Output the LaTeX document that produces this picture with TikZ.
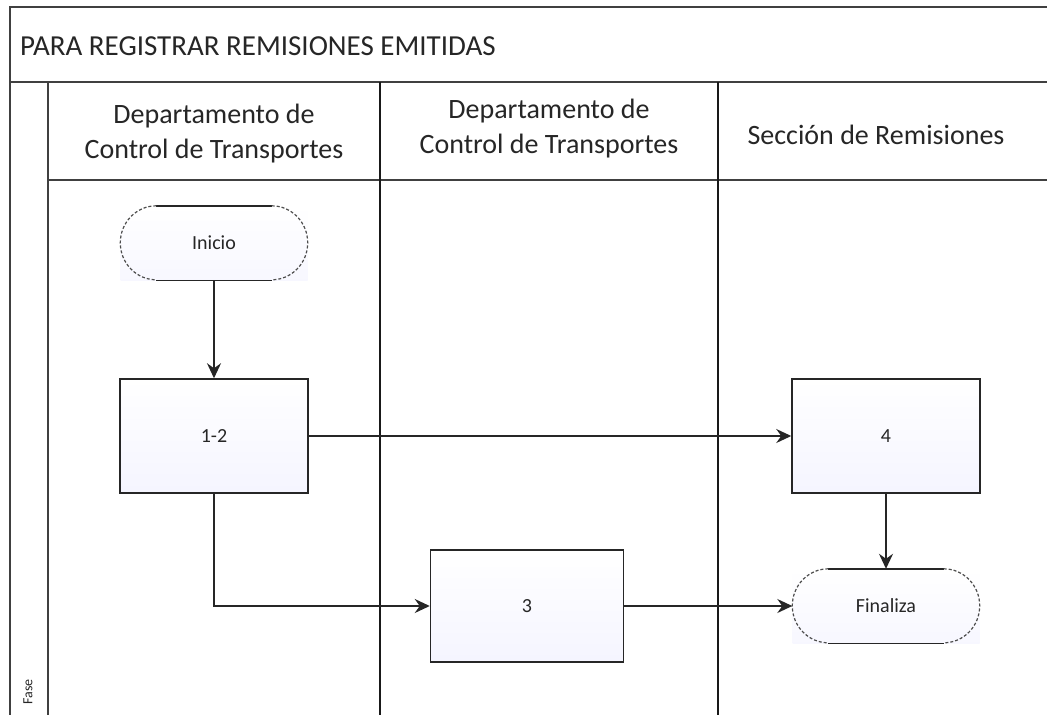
\documentclass[tikz,border=0pt]{standalone}
\usepackage{fontspec}
\setmainfont{Carlito}
\usetikzlibrary{arrows.meta}
\begin{document}
\begin{tikzpicture}[x=1pt,y=-1pt,
  frame/.style={line width=2pt,draw=black!75},
  lane/.style={line width=2pt,draw=black!90},
  procbox/.style={draw=black!85,line width=1.5pt,minimum width=188pt,minimum height=114pt,
    top color=white,bottom color=blue!4,font=\fontsize{20}{24}\selectfont,text=black!85},
  term/.style={minimum width=187pt,minimum height=74pt,font=\fontsize{20}{24}\selectfont,text=black!85,
    top color=white,bottom color=blue!3},
  termsolid/.style={line width=1.4pt,draw=black!85},
  termarc/.style={line width=1.2pt,draw=black!70,dash pattern=on 3pt off 2pt},
  flow/.style={line width=1.6pt,draw=black!85,-{Stealth[length=15pt,width=14pt,inset=5pt]}},
  hdr/.style={font=\fontsize{28}{35}\selectfont,align=center,text=black!85}]
\useasboundingbox (0,0) rectangle (1047,715);
\fill[white] (0,0) rectangle (1047,715);
% frame
\draw[frame] (1047,7) -- (10,7) -- (10,715);
\draw[frame] (10,82) -- (1047,82);
\draw[frame] (48,82) -- (48,715);
\draw[frame] (48,180) -- (1047,180);
\draw[lane] (380,82) -- (380,715);
\draw[lane] (718,82) -- (718,715);
% texts
\node[anchor=west,font=\fontsize{29}{32}\selectfont,text=black!85,inner sep=0pt] (title) at (20,46) {PARA REGISTRAR REMISIONES EMITIDAS};
\node[hdr] (h1) at (214,134) {Departamento de\\Control de Transportes};
\node[hdr] (h2) at (549,129) {Departamento de\\Control de Transportes};
\node[hdr] (h3) at (876,135) {Sección de Remisiones};
\node[rotate=90,font=\fontsize{14}{14}\selectfont,text=black!85] (fase) at (28,692) {Fase};
% nodes
\node[term] (inicio) at (214,243) {Inicio};
\node[procbox] (p12) at (214,436) {1-2};
\node[procbox] (p4) at (886,436) {4};
\node[procbox,minimum width=193pt,minimum height=112pt] (p3) at (527,606) {3};
\node[term] (fin) at (886,606) {Finaliza};
% terminator outlines
\foreach \n in {inicio,fin}{
  \draw[termsolid] ([xshift=36pt]\n.north west) -- ([xshift=-36pt]\n.north east);
  \draw[termsolid] ([xshift=36pt]\n.south west) -- ([xshift=-36pt]\n.south east);
  \draw[termarc] ([xshift=-36pt]\n.north east) arc[start angle=90,end angle=-90,x radius=36pt,y radius=37pt];
  \draw[termarc] ([xshift=36pt]\n.north west) arc[start angle=90,end angle=270,x radius=36pt,y radius=37pt];
}
% connectors
\draw[flow] (inicio.south) -- (p12.north);
\draw[flow] (p12.east) -- (p4.west);
\draw[flow] (p12.south) |- (p3.west);
\draw[flow] (p3.east) -- (fin.west);
\draw[flow] (p4.south) -- (fin.north);
\end{tikzpicture}
\end{document}
